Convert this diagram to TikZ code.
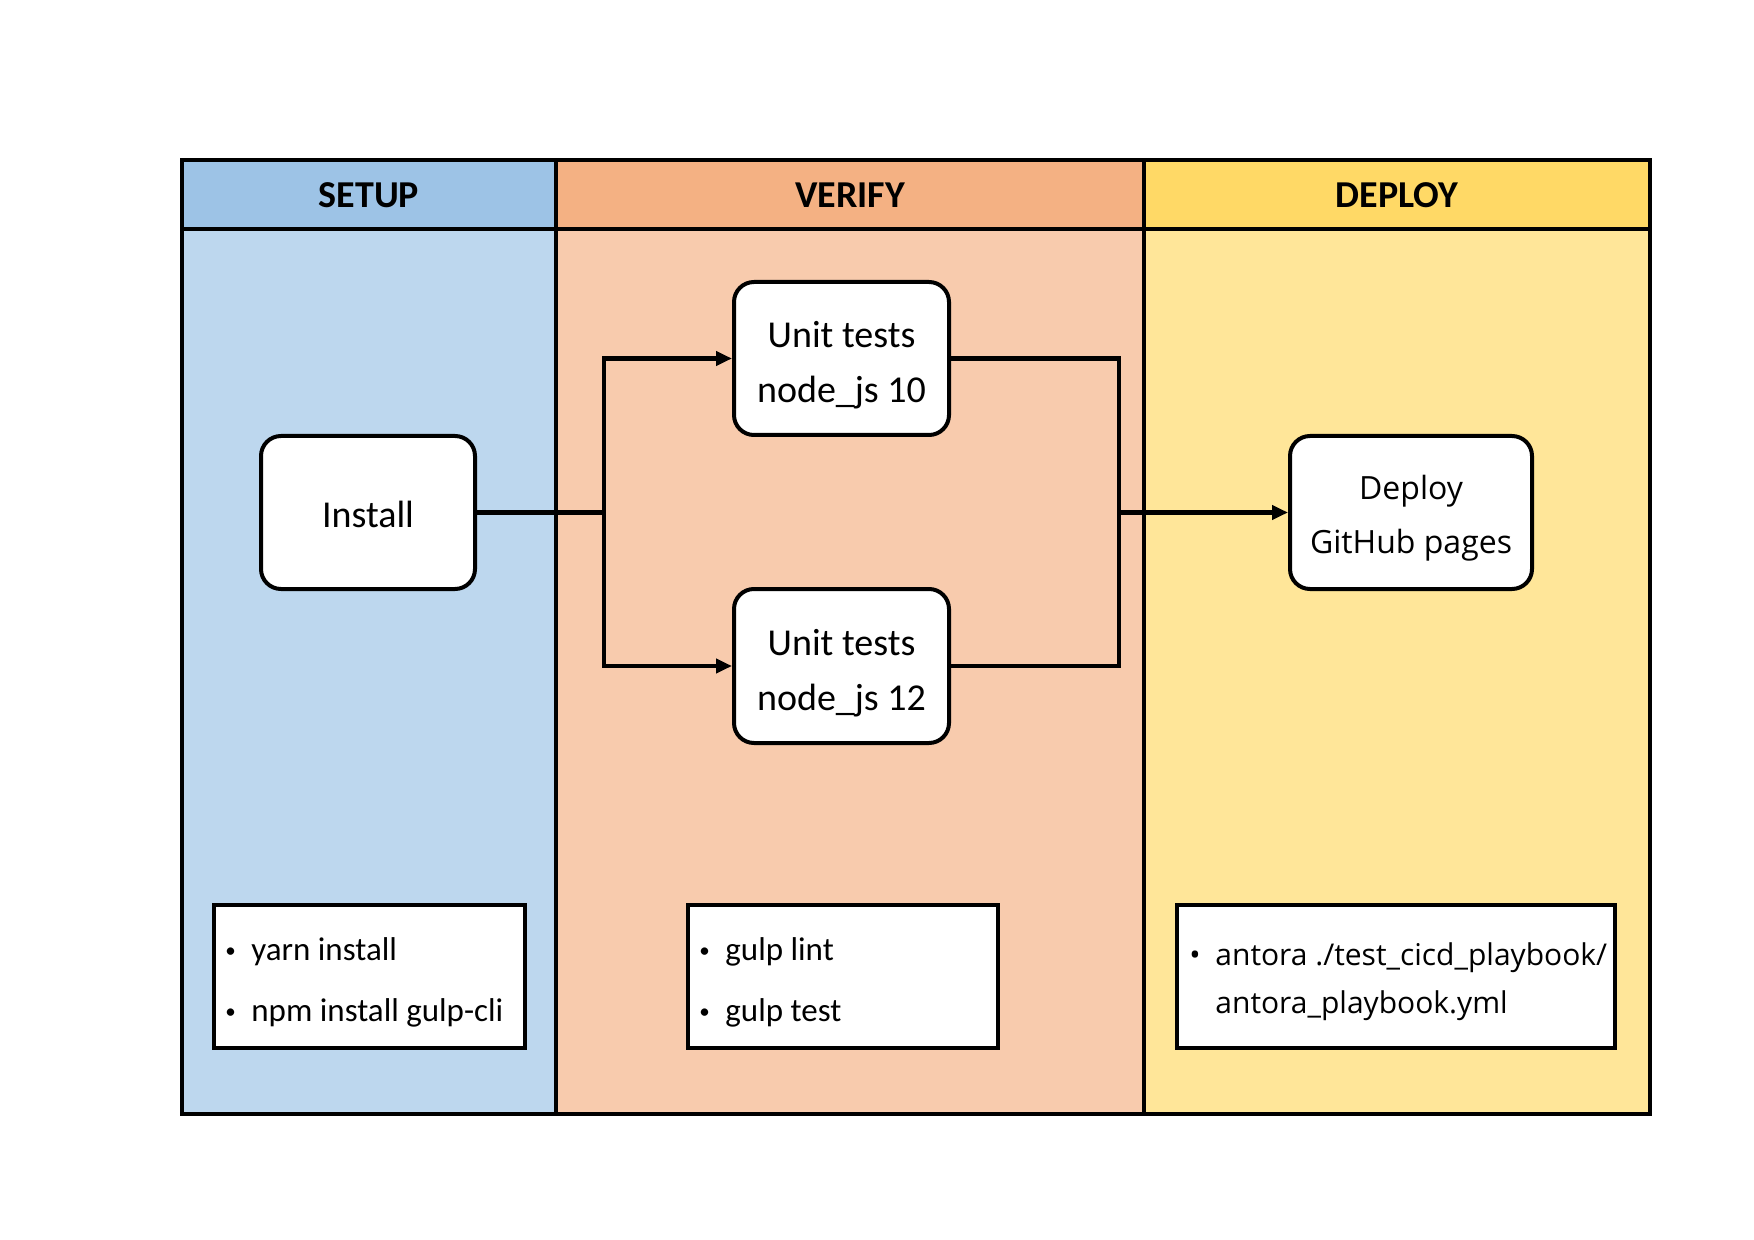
\documentclass[tikz,border=0pt]{standalone}
\usepackage{fontspec}
\setmainfont{Carlito}
\newfontfamily\osans{Open Sans}
\usetikzlibrary{arrows.meta}
\definecolor{setuph}{HTML}{9DC3E6}
\definecolor{setupb}{HTML}{BDD7EE}
\definecolor{verh}{HTML}{F4B183}
\definecolor{verb}{HTML}{F8CBAD}
\definecolor{deph}{HTML}{FFD966}
\definecolor{depb}{HTML}{FFE699}
\newcommand{\smbul}{\makebox[13pt][l]{\raisebox{1.8pt}{\fontsize{10.5}{10.5}\selectfont •}}}
\begin{document}
\begin{tikzpicture}[x=0.5pt,y=-0.5pt,
  hdr/.style={font=\fontsize{19}{23}\selectfont\bfseries,inner sep=0pt},
  stepbox/.style={draw,line width=2pt,fill=white,rounded corners=10pt,inner sep=0pt},
  steptext/.style={align=center,inner sep=0pt,font=\fontsize{19}{27.5}\selectfont},
  conn/.style={line width=2.2pt},
  arr/.style={conn,-{Triangle[length=8pt,width=7pt]}},
  listbox/.style={draw,line width=2pt,fill=white,minimum height=71.5pt,inner sep=0pt},
  listtext/.style={align=left,inner sep=0pt,anchor=west,font=\fontsize{16.5}{30.5}\selectfont},
]
\useasboundingbox (0,0) rectangle (1754,1240);
% column fills
\fill[setupb] (182,229) rectangle (556,1114);
\fill[verb] (556,229) rectangle (1144,1114);
\fill[depb] (1144,229) rectangle (1650,1114);
\fill[setuph] (182,160) rectangle (556,229);
\fill[verh] (556,160) rectangle (1144,229);
\fill[deph] (1144,160) rectangle (1650,229);
% grid lines
\draw[line width=1.6pt] (182,229) -- (1650,229);
\draw[line width=1.6pt] (556,160) -- (556,1114);
\draw[line width=1.6pt] (1144,160) -- (1144,1114);
\draw[line width=2pt] (182,160) rectangle (1650,1114);
% headers
\node[hdr] (hsetup) at (369,195) {SETUP};
\node[hdr] (hverify) at (850,195) {VERIFY};
\node[hdr] (hdeploy) at (1397,195) {DEPLOY};
% step boxes
\node[stepbox,minimum width=107pt,minimum height=76.5pt] (inst) at (368,512.5) {};
\node[stepbox,minimum width=107.5pt,minimum height=76.5pt] (u10) at (841.5,358.5) {};
\node[stepbox,minimum width=107.5pt,minimum height=77pt] (u12) at (841.5,666) {};
\node[stepbox,minimum width=121pt,minimum height=76.5pt] (dep) at (1411,512.5) {};
\node[steptext] (tinst) at ([yshift=-1pt]inst.center) {Install};
\node[steptext] (tu10) at ([yshift=-3.5pt]u10.center) {Unit tests\\node\_js 10};
\node[steptext] (tu12) at ([yshift=-3.5pt]u12.center) {Unit tests\\node\_js 12};
\node[steptext,font=\osans\fontsize{16}{27}\selectfont] (tdep) at ([yshift=-3pt]dep.center) {Deploy\\GitHub pages};
% connectors
\coordinate (split) at (604,512.5);
\coordinate (merge) at (1119,512.5);
\draw[conn] (inst.east) -- (split);
\draw[arr] (split) |- (u10.west);
\draw[arr] (split) |- (u12.west);
\draw[conn] (u10.east) -| (merge);
\draw[conn] (u12.east) -| (merge);
\draw[arr] (merge) -- (dep.west);
% list boxes
\node[listbox,minimum width=155.5pt] (lb1) at (369.5,976.5) {};
\node[listbox,minimum width=155pt] (lb2) at (843,976.5) {};
\node[listbox,minimum width=219pt] (lb3) at (1396,976.5) {};
\node[listtext] (lt1) at ([xshift=6.5pt,yshift=-3pt]lb1.west) {\smbul yarn install\\\smbul npm install gulp-cli};
\node[listtext] (lt2) at ([xshift=6.5pt,yshift=-3pt]lb2.west) {\smbul gulp lint\\\smbul gulp test};
\node[listtext,font=\osans\fontsize{15}{24}\selectfont] (lt3) at ([xshift=7pt,yshift=-2.5pt]lb3.west) {\makebox[13pt][l]{•}antora ./test\_cicd\_playbook/\\\hspace*{13pt}antora\_playbook.yml};
\end{tikzpicture}
\end{document}
